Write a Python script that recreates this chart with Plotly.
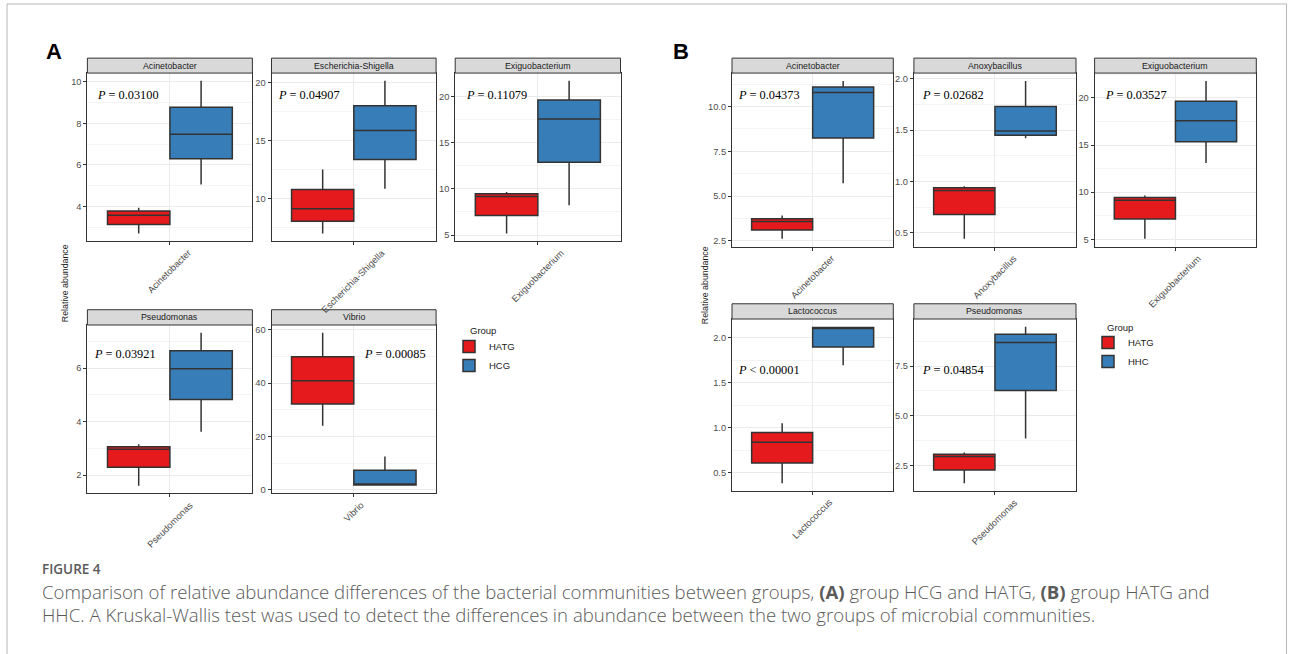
import plotly.graph_objects as go

W, H = 1293, 654

# ---------------- data: panel A (HATG vs HCG) ----------------
genera_A = ["Acinetobacter", "Escherichia-Shigella", "Exiguobacterium", "Pseudomonas", "Vibrio"]
groups_A = ["HATG", "HCG"]
pvals_A = ["<i>P</i> = 0.03100", "<i>P</i> = 0.04907", "<i>P</i> = 0.11079",
           "<i>P</i> = 0.03921", "<i>P</i> = 0.00085"]
A_HATG_low = [2.69, 7.00, 5.15, 1.60, 24.0]
A_HATG_q1 = [3.13, 8.06, 7.12, 2.29, 32.2]
A_HATG_med = [3.57, 9.14, 9.17, 2.97, 40.9]
A_HATG_q3 = [3.78, 10.80, 9.46, 3.06, 49.9]
A_HATG_high = [3.94, 12.51, 9.64, 3.15, 58.9]
A_HCG_low = [5.06, 10.86, 8.23, 3.62, 1.50]
A_HCG_q1 = [6.29, 13.37, 12.87, 4.82, 1.80]
A_HCG_med = [7.47, 15.86, 17.55, 5.97, 2.10]
A_HCG_q3 = [8.77, 18.00, 19.60, 6.64, 7.30]
A_HCG_high = [10.05, 20.14, 21.68, 7.32, 12.47]

# ---------------- data: panel B (HATG vs HHC) ----------------
genera_B = ["Acinetobacter", "Anoxybacillus", "Exiguobacterium", "Lactococcus", "Pseudomonas"]
groups_B = ["HATG", "HHC"]
pvals_B = ["<i>P</i> = 0.04373", "<i>P</i> = 0.02682", "<i>P</i> = 0.03527",
           "<i>P</i> &lt; 0.00001", "<i>P</i> = 0.04854"]
B_HATG_low = [2.63, 0.445, 5.07, 0.380, 1.60]
B_HATG_q1 = [3.11, 0.680, 7.15, 0.608, 2.27]
B_HATG_med = [3.59, 0.913, 9.15, 0.837, 2.95]
B_HATG_q3 = [3.74, 0.940, 9.43, 0.945, 3.07]
B_HATG_high = [3.92, 0.955, 9.64, 1.048, 3.15]
B_HHC_low = [5.72, 1.420, 13.10, 1.694, 3.86]
B_HHC_q1 = [8.24, 1.450, 15.36, 1.897, 6.27]
B_HHC_med = [10.78, 1.490, 17.57, 2.103, 8.68]
B_HHC_q3 = [11.09, 1.730, 19.65, 2.114, 9.10]
B_HHC_high = [11.42, 1.977, 21.80, 2.122, 9.47]

# ---------------- styles / geometry ----------------
COLORS = {"HATG": "#E41A1C", "HCG": "#377EB8", "HHC": "#377EB8"}
dtick_A = [2, 5, 5, 2, 20]
fmt_A = ["d", "d", "d", "d", "d"]
dtick_B = [2.5, 0.5, 5, 0.5, 2.5]
fmt_B = [".1f", ".1f", "d", ".1f", ".1f"]

colsA = [(87.4, 252.4), (271.5, 436.1), (455.2, 620.5)]
rowsA = [(58.3, 73.3, 242.0), (310.7, 326.0, 495.0)]
colsB = [(732.0, 893.3), (913.9, 1076.0), (1094.6, 1256.3)]
rowsB = [(58.3, 73.3, 247.3), (304.7, 320.0, 492.7)]
ppos_A = [(128, 95), (309, 95), (496, 95), (125, 355), (395, 355)]
ppos_B = [(769, 95), (953, 95), (1136, 95), (769, 370.7), (953, 370.7)]

SANS = "Liberation Sans, Arial, sans-serif"
SERIF = "Liberation Serif, Times New Roman, serif"


def px(x):
    return x / W


def py(y):
    return 1 - y / H


fig = go.Figure()
shapes = []
annotations = []
layout_axes = {}

panels = [
    dict(genera=genera_A, groups=groups_A, pvals=pvals_A, cols=colsA, rows=rowsA,
         ppos=ppos_A, dtick=dtick_A, fmt=fmt_A, legend="legend",
         stats={"HATG": (A_HATG_low, A_HATG_q1, A_HATG_med, A_HATG_q3, A_HATG_high),
                "HCG": (A_HCG_low, A_HCG_q1, A_HCG_med, A_HCG_q3, A_HCG_high)}),
    dict(genera=genera_B, groups=groups_B, pvals=pvals_B, cols=colsB, rows=rowsB,
         ppos=ppos_B, dtick=dtick_B, fmt=fmt_B, legend="legend2",
         stats={"HATG": (B_HATG_low, B_HATG_q1, B_HATG_med, B_HATG_q3, B_HATG_high),
                "HHC": (B_HHC_low, B_HHC_q1, B_HHC_med, B_HHC_q3, B_HHC_high)}),
]

n = 0
for pan in panels:
    for i, genus in enumerate(pan["genera"]):
        n += 1
        sfx = "" if n == 1 else str(n)
        col, row = i % 3, i // 3
        x0, x1 = pan["cols"][col]
        s0, p0, p1 = pan["rows"][row]

        vals = []
        for gi, g in enumerate(pan["groups"]):
            lo, q1, md, q3, hi = pan["stats"][g]
            vals += [lo[i], hi[i]]
            fig.add_trace(go.Box(
                x=[genus], lowerfence=[lo[i]], q1=[q1[i]], median=[md[i]],
                q3=[q3[i]], upperfence=[hi[i]],
                name=g, legendgroup=pan["legend"] + g, legend=pan["legend"],
                showlegend=(i == 0),
                alignmentgroup="sub%d" % n, offsetgroup="g%d" % gi,
                fillcolor=COLORS[g], line=dict(color="#333333", width=1.5),
                whiskerwidth=0, boxpoints=False,
                xaxis="x" + sfx, yaxis="y" + sfx,
            ))
        vmin, vmax = min(vals), max(vals)
        pad = 0.05 * (vmax - vmin)

        layout_axes["xaxis" + sfx] = dict(
            domain=[px(x0), px(x1)], anchor="y" + sfx, type="category",
            range=[-0.661, 0.661], showgrid=True, gridcolor="#EBEBEB", gridwidth=1,
            ticks="outside", ticklen=3, tickcolor="#333333", tickwidth=1,
            showticklabels=False,
            showline=True, mirror=True, linecolor="#333333", linewidth=1,
            zeroline=False, fixedrange=True,
        )
        layout_axes["yaxis" + sfx] = dict(
            domain=[py(p1), py(p0)], anchor="x" + sfx,
            range=[vmin - pad, vmax + pad], dtick=pan["dtick"][i], tick0=0,
            tickformat=pan["fmt"][i],
            showgrid=True, gridcolor="#EBEBEB", gridwidth=1,
            minor=dict(dtick=pan["dtick"][i] / 2, showgrid=True,
                       gridcolor="#F4F4F4", gridwidth=0.8, ticks=""),
            ticks="outside", ticklen=3, tickcolor="#333333", tickwidth=1,
            tickfont=dict(family=SANS, size=9.3, color="#4D4D4D"),
            showline=True, mirror=True, linecolor="#333333", linewidth=1,
            zeroline=False, fixedrange=True,
        )
        # x category label, rotated 45 degrees and centred under the tick
        annotations.append(dict(text=genus, xref="x" + sfx, yref="paper",
                                x=genus, y=py(p1 + 3.5), xanchor="center", yanchor="top",
                                textangle=-45, showarrow=False,
                                font=dict(family=SANS, size=9.3, color="#4D4D4D")))
        # facet strip
        shapes.append(dict(type="rect", xref="paper", yref="paper",
                           x0=px(x0), x1=px(x1), y0=py(p0), y1=py(s0),
                           fillcolor="#D9D9D9", line=dict(color="#333333", width=1)))
        annotations.append(dict(text=genus, xref="paper", yref="paper",
                                x=px((x0 + x1) / 2), y=py((s0 + p0) / 2),
                                xanchor="center", yanchor="middle", showarrow=False,
                                font=dict(family=SANS, size=8.8, color="#1A1A1A")))
        # p-value label
        tx, ty = pan["ppos"][i]
        annotations.append(dict(text=pan["pvals"][i], xref="paper", yref="paper",
                                x=px(tx), y=py(ty), xanchor="center", yanchor="middle",
                                showarrow=False,
                                font=dict(family=SERIF, size=12.3, color="#000000")))

# y-axis titles
for tx, ty in [(65, 284), (705, 286)]:
    annotations.append(dict(text="Relative abundance", xref="paper", yref="paper",
                            x=px(tx), y=py(ty), xanchor="center", yanchor="middle",
                            textangle=-90, showarrow=False,
                            font=dict(family=SANS, size=8.8, color="#1A1A1A")))
# legend titles
for tx, ty in [(468, 332), (1105, 329)]:
    annotations.append(dict(text="Group", xref="paper", yref="paper",
                            x=px(tx), y=py(ty), xanchor="left", yanchor="middle",
                            showarrow=False,
                            font=dict(family=SANS, size=9.5, color="#1A1A1A")))
# panel letters
for txt, tx in [("A", 44), ("B", 671)]:
    annotations.append(dict(text="<b>%s</b>" % txt, xref="paper", yref="paper",
                            x=px(tx), y=py(52), xanchor="left", yanchor="middle",
                            showarrow=False,
                            font=dict(family=SANS, size=22, color="#000000")))
# caption
CAP = "Open Sans, Lato, sans-serif"
annotations.append(dict(text="FIGURE 4", xref="paper", yref="paper",
                        x=px(40), y=py(571), xanchor="left", yanchor="middle",
                        showarrow=False,
                        font=dict(family=CAP, size=13.5, color="#5A5A5A", weight=600)))
cap_lines = [
    "Comparison of relative abundance differences of the bacterial communities between groups, "
    "<b>(A)</b> group HCG and HATG, <b>(B)</b> group HATG and",
    "HHC. A Kruskal-Wallis test was used to detect the differences in abundance between "
    "the two groups of microbial communities.",
]
for txt, ty in zip(cap_lines, [593, 616]):
    annotations.append(dict(text=txt, xref="paper", yref="paper",
                            x=px(40), y=py(ty), xanchor="left", yanchor="middle",
                            showarrow=False,
                            font=dict(family=CAP, size=18.6, color="#5A5A5A", weight=300)))

# outer card border
shapes.append(dict(type="rect", xref="paper", yref="paper",
                   x0=px(7), x1=px(1286.5), y0=-0.05, y1=py(4),
                   line=dict(color="#B5B5B5", width=1), fillcolor="rgba(0,0,0,0)",
                   layer="below"))

legend_style = dict(xanchor="left", yanchor="top", bgcolor="rgba(0,0,0,0)",
                    font=dict(family=SANS, size=9.5, color="#1A1A1A"),
                    tracegroupgap=0, itemwidth=30)
fig.update_layout(
    width=W, height=H, margin=dict(l=0, r=0, t=0, b=0),
    paper_bgcolor="white", plot_bgcolor="white",
    boxmode="group", boxgap=0, boxgroupgap=0,
    shapes=shapes, annotations=annotations,
    legend=dict(x=px(449), y=py(333), **legend_style),
    legend2=dict(x=px(1088), y=py(329), **legend_style),
    **layout_axes,
)

fig.write_html("out.html")
